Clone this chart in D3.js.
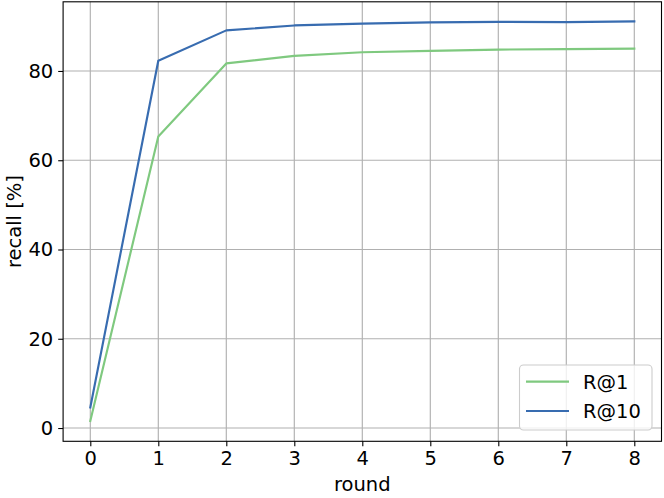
<!DOCTYPE html>
<html><head><meta charset="utf-8">
<script src="https://cdn.jsdelivr.net/npm/d3@7"></script>
<style>body{margin:0;background:#fff}text{font-family:"DejaVu Sans",sans-serif}</style>
</head><body><svg id="c" width="664" height="498"></svg>
<script>
const rounds = [0,1,2,3,4,5,6,7,8];
const r1 = [1.6,65.3,81.7,83.4,84.2,84.5,84.8,84.9,85.0];
const r10 = [4.6,82.3,89.1,90.2,90.6,90.9,91.0,90.95,91.1];
const xTicks = [0,1,2,3,4,5,6,7,8];
const yTicks = [0,20,40,60,80];
const seriesNames = ["R@1","R@10"];
const colors = ["#7fc97f","#386cb0"];

const svg = d3.select("#c");
const L=63.1, R=661.5, T=1.8, B=441.3;
const x = d3.scaleLinear().domain([-0.4,8.4]).range([L,R]);
const y = d3.scaleLinear().domain([-2.975,95.5]).range([B,T]);
const fs = 19.5;

// grid
svg.append("g").selectAll("line").data(xTicks).join("line")
  .attr("x1",d=>x(d)).attr("x2",d=>x(d)).attr("y1",T).attr("y2",B)
  .attr("stroke","#b0b0b0").attr("stroke-width",1.15);
svg.append("g").selectAll("line").data(yTicks).join("line")
  .attr("y1",d=>y(d)).attr("y2",d=>y(d)).attr("x1",L).attr("x2",R)
  .attr("stroke","#b0b0b0").attr("stroke-width",1.15);

// lines
const line = d3.line().x((d,i)=>x(rounds[i])).y(d=>y(d));
[r1,r10].forEach((s,k)=>{
  svg.append("path").datum(s).attr("d",line).attr("fill","none")
    .attr("stroke",colors[k]).attr("stroke-width",2.16).attr("stroke-linejoin","round").attr("stroke-linecap","square");
});

// axes
const xa = svg.append("g").attr("transform",`translate(0,${B})`)
  .call(d3.axisBottom(x).tickValues(xTicks).tickSize(4.9).tickPadding(5).tickFormat(d3.format("d")));
const ya = svg.append("g").attr("transform",`translate(${L},0)`)
  .call(d3.axisLeft(y).tickValues(yTicks).tickSize(4.9).tickPadding(5).tickFormat(d3.format("d")));
[xa,ya].forEach(a=>{
  a.select(".domain").remove();
  a.selectAll("line").attr("stroke","#000").attr("stroke-width",1.1);
  a.selectAll("text").attr("font-size",fs).attr("fill","#000").attr("font-family","DejaVu Sans");
});
svg.append("rect").attr("x",L).attr("y",T).attr("width",R-L).attr("height",B-T)
  .attr("fill","none").attr("stroke","#000").attr("stroke-width",1.1);

// labels
svg.append("text").attr("x",(L+R)/2).attr("y",491).attr("text-anchor","middle").attr("font-size",fs).text("round");
svg.append("text").attr("transform",`translate(21,${(T+B)/2}) rotate(-90)`).attr("text-anchor","middle").attr("font-size",fs).text("recall [%]");

// legend
const lg = svg.append("g");
lg.append("rect").attr("x",519.5).attr("y",365).attr("width",132.5).attr("height",65).attr("rx",4)
  .attr("fill","#fff").attr("fill-opacity",0.8).attr("stroke","#cccccc").attr("stroke-width",1.1);
seriesNames.forEach((n,i)=>{
  const yy = 381.7 + i*29.3;
  lg.append("line").attr("x1",526).attr("x2",569).attr("y1",yy).attr("y2",yy).attr("stroke",colors[i]).attr("stroke-width",2.16);
  lg.append("text").attr("x",583).attr("y",yy+7).attr("font-size",fs).text(n);
});
</script></body></html>
